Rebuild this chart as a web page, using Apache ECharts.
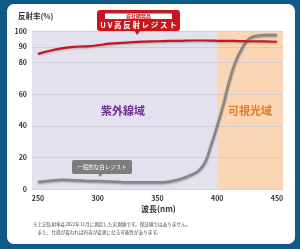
<!DOCTYPE html>
<html>
<head>
<meta charset="utf-8">
<script src="https://cdn.jsdelivr.net/npm/echarts@6/dist/echarts.min.js"></script>
<style>
  html, body { margin: 0; padding: 0; background: #0f5a86; }
  #chart { width: 300px; height: 249px; }
</style>
</head>
<body>
<div id="chart"></div>
<script>
// wavelength (nm)
const wavelengths = [250, 260, 270, 280, 290, 300, 310, 320, 330, 340, 350, 360, 370, 380, 385, 390, 395, 400, 405, 410, 415, 420, 425, 430, 440, 450]
// UV high-reflect resist (%)
const uvResist = [85.5, 87.5, 89, 90, 90.3, 91, 92, 92.5, 93, 93.3, 93.5, 93.7, 93.8, 94, 94, 94, 93.9, 93.8, 93.8, 93.8, 93.7, 93.6, 93.5, 93.5, 93.4, 93.2]
// general white resist (%)
const whiteResist = [4.5, 5.2, 5.8, 5.5, 5.2, 5, 4.7, 4.4, 4.2, 4.2, 4.2, 4.8, 6.5, 9.5, 12, 17, 28, 40, 53, 68, 80, 88, 94, 96.5, 97.5, 97.5]
const xTicks = [250, 300, 350, 400, 450]
const yTicks = [0, 20, 40, 60, 80, 90, 100]

const font = "'Noto Sans CJK JP', sans-serif"
const chart = echarts.init(document.getElementById('chart'))

const pairs = (vals) => wavelengths.map((w, i) => [w, vals[i]])

chart.setOption({
  animation: false,
  backgroundColor: '#0f5a86',
  grid: { left: 32, right: 17, top: 31, bottom: 60, show: true, backgroundColor: '#e4e1ef', borderWidth: 0 },
  xAxis: {
    type: 'value', min: 245, max: 455, z: 5,
    axisLine: { show: false },
    axisTick: { show: false, customValues: xTicks },
    axisLabel: { customValues: xTicks, color: '#333', fontSize: 7, fontWeight: 'bold', fontFamily: font, margin: 6 },
    splitLine: { show: false }
  },
  yAxis: {
    type: 'value', min: 0, max: 100, z: 5,
    axisLine: { show: false },
    axisTick: { show: false, customValues: yTicks },
    axisLabel: { customValues: yTicks, color: '#333', fontSize: 7, fontWeight: 'bold', fontFamily: font, margin: 5 },
    splitLine: { show: true, lineStyle: { color: '#cbc8d6', width: 0.8 } }
  },
  series: [
    {
      type: 'line', data: [], z: 1,
      markArea: {
        silent: true,
        itemStyle: { color: '#fad6b4' },
        data: [[{ xAxis: 400 }, { xAxis: 455 }]]
      }
    },
    {
      name: '一般的な白レジスト', type: 'line', data: pairs(whiteResist), smooth: 0.4, symbol: 'none', z: 10,
      lineStyle: { color: '#868686', width: 2.5, shadowColor: 'rgba(0,0,0,0.35)', shadowBlur: 2, shadowOffsetY: 1 }
    },
    {
      name: 'UV高反射レジスト', type: 'line', data: pairs(uvResist), smooth: 0.4, symbol: 'none', z: 11,
      lineStyle: { color: '#c8161d', width: 2.2, shadowColor: 'rgba(0,0,0,0.25)', shadowBlur: 2, shadowOffsetY: 1 }
    }
  ],
  graphic: [
    // white card
    { type: 'rect', z: -10, shape: { x: 7, y: 4, width: 288, height: 240, r: 7 }, style: { fill: '#fff' } },
    { type: 'text', z: 20, left: 18, top: 12, style: { text: '反射率(%)', fill: '#333', font: 'bold 7.5px ' + font } },
    { type: 'text', z: 20, left: 141, top: 205, style: { text: '波長(nm)', fill: '#333', font: 'bold 8px ' + font } },
    { type: 'text', z: 20, left: 33, top: 220, style: { text: '※上記反射率は2022年11月に測定した実測値です。保証値ではありません。\n　また、仕様が変われば内容が変更になる可能性があります。', fill: '#444', font: '4.6px ' + font, lineHeight: 8 } },
    { type: 'text', z: 20, left: 101, top: 105, style: { text: '紫外線域', fill: '#6b2d90', font: 'bold 11px ' + font } },
    { type: 'text', z: 20, left: 228, top: 105, style: { text: '可視光域', fill: '#e8781f', font: 'bold 11px ' + font } },
    // red callout
    { type: 'rect', z: 20, shape: { x: 97, y: 10, width: 83, height: 21, r: 3 }, style: { fill: '#c8161d' } },
    { type: 'polygon', z: 20, shape: { points: [[134, 30], [141, 30], [137, 35]] }, style: { fill: '#c8161d' } },
    { type: 'rect', z: 21, shape: { x: 105, y: 13.5, width: 67, height: 5.5 }, style: { fill: '#fff' } },
    { type: 'text', z: 22, x: 138.5, y: 16.3, style: { text: '自社開発品', fill: '#c8161d', font: 'bold 5px ' + font, align: 'center', verticalAlign: 'middle' } },
    { type: 'text', z: 22, x: 138.5, y: 25.3, style: { text: 'U V 高 反 射 レ ジ ス ト', fill: '#fff', font: 'bold 7.5px ' + font, align: 'center', verticalAlign: 'middle' } },
    // grey callout
    { type: 'rect', z: 20, shape: { x: 72, y: 160, width: 60, height: 14, r: 2 }, style: { fill: '#7d7d7d' } },
    { type: 'polygon', z: 20, shape: { points: [[98, 173.5], [103, 173.5], [100, 177]] }, style: { fill: '#7d7d7d' } },
    { type: 'text', z: 22, x: 102, y: 167, style: { text: '一般的な白レジスト', fill: '#fff', font: '5.5px ' + font, align: 'center', verticalAlign: 'middle' } }
  ]
})
</script>
</body>
</html>
